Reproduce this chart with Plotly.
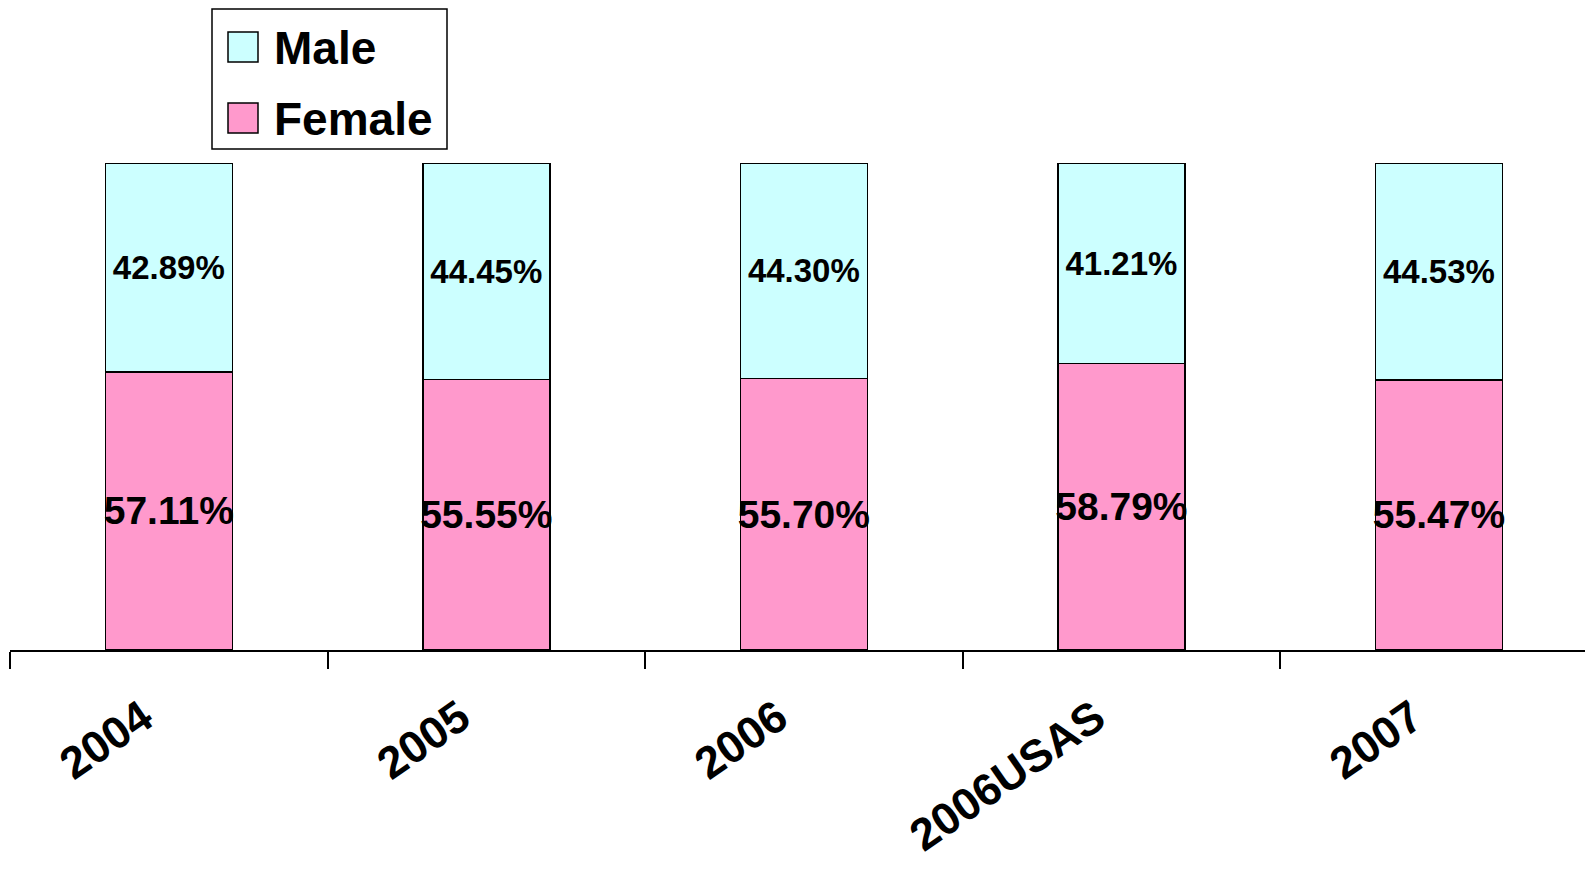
import plotly.graph_objects as go

categories = ["2004", "2005", "2006", "2006USAS", "2007"]
male = [42.89, 44.45, 44.30, 41.21, 44.53]
female = [57.11, 55.55, 55.70, 58.79, 55.47]
series_names = ["Male", "Female"]
series_colors = ["#CCFFFF", "#FF99CC"]

FONT = "Liberation Sans, Arial, sans-serif"

W, H = 1585, 869
ML, MR, MT, MB = 10, 0, 163, 219
PW, PH = W - ML - MR, H - MT - MB


def px_x(x):
    return (x - ML) / PW


def px_y(y):
    return (H - MB - y) / PH


fig = go.Figure()
fig.add_trace(go.Bar(
    name="Female", x=categories, y=female,
    marker=dict(color=series_colors[1], line=dict(color="#000000", width=1.5)),
    texttemplate="%{y:.2f}%", textposition="inside", insidetextanchor="middle",
    textangle=0, constraintext="none",
    textfont=dict(family=FONT, size=39, color="#000000", weight="bold"),
    showlegend=False,
))
fig.add_trace(go.Bar(
    name="Male", x=categories, y=male,
    marker=dict(color=series_colors[0], line=dict(color="#000000", width=1.5)),
    texttemplate="%{y:.2f}%", textposition="inside", insidetextanchor="middle",
    textangle=0, constraintext="none",
    textfont=dict(family=FONT, size=33, color="#000000", weight="bold"),
    showlegend=False,
))

# legend box (drawn to match the large swatches of the original)
shapes = [dict(type="rect", xref="paper", yref="paper",
               x0=px_x(212), x1=px_x(447), y0=px_y(149), y1=px_y(9),
               line=dict(color="#000000", width=1.5), fillcolor="white")]
annotations = []
row_centers = [47, 118]
for name, color, yc in zip(series_names, series_colors, row_centers):
    shapes.append(dict(type="rect", xref="paper", yref="paper",
                       x0=px_x(228), x1=px_x(258), y0=px_y(yc + 15), y1=px_y(yc - 15),
                       line=dict(color="#000000", width=1.5), fillcolor=color))
    annotations.append(dict(text=name, xref="paper", yref="paper",
                            x=px_x(272), y=px_y(yc + 1), xanchor="left", yanchor="middle",
                            showarrow=False,
                            font=dict(family=FONT, size=46, color="#000000", weight="bold")))

fig.update_layout(
    barmode="stack",
    bargap=0.6,
    width=W, height=H,
    margin=dict(l=ML, r=MR, t=MT, b=MB, autoexpand=False),
    paper_bgcolor="white", plot_bgcolor="white",
    showlegend=False,
    shapes=shapes,
    annotations=annotations,
    xaxis=dict(
        range=[-0.5, 4.46],
        automargin=False,
        showline=True, linecolor="#000000", linewidth=1.5,
        ticks="outside", tickson="boundaries", ticklen=17, tickwidth=1.5, tickcolor="#000000",
        tickangle=-35,
        ticklabelstandoff=22, ticklabelshift=-26,
        tickfont=dict(family=FONT, size=45, color="#000000", weight="bold"),
        showgrid=False, zeroline=False,
    ),
    yaxis=dict(range=[0, 100], visible=False, showgrid=False, zeroline=False),
)

fig.write_html(
    "out.html",
    config={"displayModeBar": False},
    post_script="document.body.style.margin='0';document.body.style.overflow='hidden';",
)
